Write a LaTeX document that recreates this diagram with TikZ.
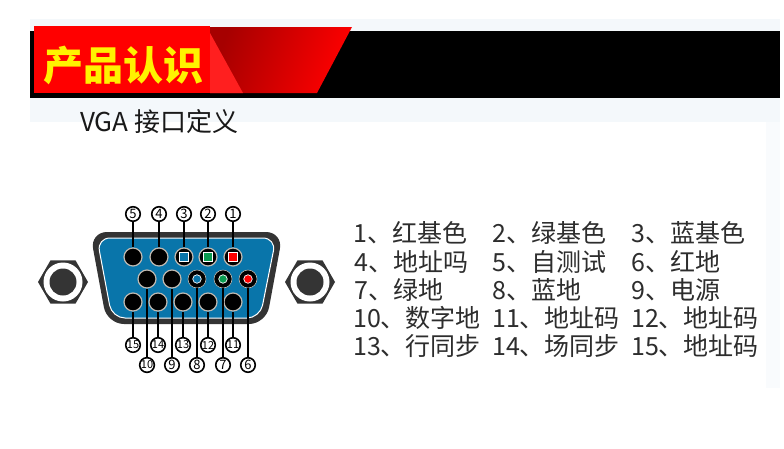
\documentclass[tikz,border=0pt]{standalone}
\usepackage{fontspec}
\setmainfont{Noto Sans CJK SC}
\definecolor{paleband}{RGB}{244, 248, 251}
\definecolor{shellgray}{RGB}{52, 52, 52}
\definecolor{vgablue}{RGB}{9, 117, 170}
\definecolor{pinedge}{RGB}{190, 184, 176}
\definecolor{listgray}{RGB}{45, 45, 45}
\definecolor{markgreen}{RGB}{10, 155, 80}
\usetikzlibrary{shapes.geometric}

\begin{document}
\begin{tikzpicture}[
        x=1pt, y=-1pt,
        every node/.style={inner sep=0pt},
        pinnode/.style={circle, draw=pinedge, line width=1.2pt, fill=black, minimum size=18pt},
        ringnode/.style={circle, fill=black, draw=pinedge, line width=0.6pt, minimum size=18pt},
        marksq/.style={draw=white, line width=0.9pt, minimum size=9pt},
        markdot/.style={circle, draw=white, line width=0.7pt, minimum size=8.5pt},
        numnode/.style={circle, draw=black, line width=1.6pt, fill=white, minimum size=14.5pt, font=\fontsize{13}{13}\selectfont},
        numwide/.style={numnode, font=\fontsize{11}{11}\selectfont},
        nutnode/.style={regular polygon, regular polygon sides=6, fill=shellgray, minimum size=50pt},
        nutring/.style={circle, fill=white, minimum size=39pt},
        nuthole/.style={circle, fill=shellgray, minimum size=27pt},
        item/.style={anchor=west, text=listgray, font=\fontsize{25}{25}\selectfont},
        leader/.style={draw=black, line width=1.3pt}
      ]
        \useasboundingbox (0,0) rectangle (784,448);
        \fill[white] (0,0) rectangle (784,448);
        \fill[paleband] (30,19) rectangle (780,122);
        \fill[paleband!50!white] (766,122) rectangle (780,388);
        \fill[black] (30,31) rectangle (780,98);
        \shade[left color=red!65!black, right color=red, shading angle=70] (210,27) -- (352,27) -- (317,93) -- (210,93) -- cycle;
        \fill[red!88!white] (210,33) -- (243,93) -- (210,93) -- cycle;
        \node[fill=red, minimum width=176pt, minimum height=67pt, anchor=north west] (titlebox) at (34,26) {};
        \node[text=yellow, font=\fontsize{40}{40}\selectfont\bfseries] (title) at (123,65) {产品认识};
        \node[anchor=west, text=black!90, font=\fontsize{26}{26}\selectfont] (subtitle) at (80,122) {VGA 接口定义};

        \node[nutnode] (nutl) at (63,282) {};
        \node[nutring] (ringl) at (63,282) {};
        \node[nuthole] (holel) at (63,282) {};
        \node[nutnode] (nutr) at (310,282) {};
        \node[nutring] (ringr) at (310,282) {};
        \node[nuthole] (holer) at (310,282) {};

        \fill[shellgray, rounded corners=17pt] (90,232) -- (283,232) -- (266,324) -- (107,324) -- cycle;
        \draw[fill=vgablue, draw=white, line width=1pt, rounded corners=13pt] (97,238) -- (276,238) -- (260,318) -- (112,318) -- cycle;

        \node[pinnode] (pin5) at (133,257) {};
        \node[pinnode] (pin4) at (159,257) {};
        \node[pinnode] (pin3) at (184,257) {};
        \node[pinnode] (pin2) at (208,257) {};
        \node[pinnode] (pin1) at (233,257) {};
        \node[marksq, fill=vgablue] (sq3) at (pin3) {};
        \node[marksq, fill=markgreen] (sq2) at (pin2) {};
        \node[marksq, fill=red] (sq1) at (pin1) {};
        \node[pinnode] (pin10) at (147,279) {};
        \node[pinnode] (pin9) at (172,279) {};
        \node[ringnode] (pin8) at (197,279) {};
        \node[ringnode] (pin7) at (223,279) {};
        \node[ringnode] (pin6) at (248,279) {};
        \node[markdot, fill=vgablue] (dot8) at (pin8) {};
        \node[markdot, fill=markgreen] (dot7) at (pin7) {};
        \node[markdot, fill=red] (dot6) at (pin6) {};
        \node[pinnode] (pin15) at (133,302) {};
        \node[pinnode] (pin14) at (158,302) {};
        \node[pinnode] (pin13) at (183,302) {};
        \node[pinnode] (pin12) at (208,302) {};
        \node[pinnode] (pin11) at (233,302) {};

        \node[numnode] (num5) at (133,214) {5};
        \node[numnode] (num4) at (159,214) {4};
        \node[numnode] (num3) at (184,214) {3};
        \node[numnode] (num2) at (208,214) {2};
        \node[numnode] (num1) at (233,214) {1};
        \node[numwide] (num15) at (133,345) {15};
        \node[numwide] (num14) at (158,345) {14};
        \node[numwide] (num13) at (183,345) {13};
        \node[numwide] (num12) at (208,345) {12};
        \node[numwide] (num11) at (233,345) {11};
        \node[numwide] (num10) at (147,365) {10};
        \node[numnode] (num9) at (172,365) {9};
        \node[numnode] (num8) at (197,365) {8};
        \node[numnode] (num7) at (223,365) {7};
        \node[numnode] (num6) at (248,365) {6};

        \draw[leader] (num5) -- (pin5) (num4) -- (pin4) (num3) -- (pin3) (num2) -- (pin2) (num1) -- (pin1);
        \draw[leader] (num15) -- (pin15) (num14) -- (pin14) (num13) -- (pin13) (num12) -- (pin12) (num11) -- (pin11);
        \draw[leader] (num10) -- (pin10) (num9) -- (pin9) (num8) -- (pin8) (num7) -- (pin7) (num6) -- (pin6);

        \node[item] (item1) at (353,233) {1、红基色};
        \node[item] (item2) at (492,233) {2、绿基色};
        \node[item] (item3) at (631,233) {3、蓝基色};
        \node[item] (item4) at (354,262) {4、地址吗};
        \node[item] (item5) at (492,262) {5、自测试};
        \node[item] (item6) at (631,262) {6、红地};
        \node[item] (item7) at (354,290) {7、绿地};
        \node[item] (item8) at (492,290) {8、蓝地};
        \node[item] (item9) at (631,290) {9、电源};
        \node[item] (item10) at (353,318) {10、数字地};
        \node[item] (item11) at (492,318) {11、地址码};
        \node[item] (item12) at (631,318) {12、地址码};
        \node[item] (item13) at (353,346) {13、行同步};
        \node[item] (item14) at (492,346) {14、场同步};
        \node[item] (item15) at (631,346) {15、地址码};
      \end{tikzpicture}
\end{document}
